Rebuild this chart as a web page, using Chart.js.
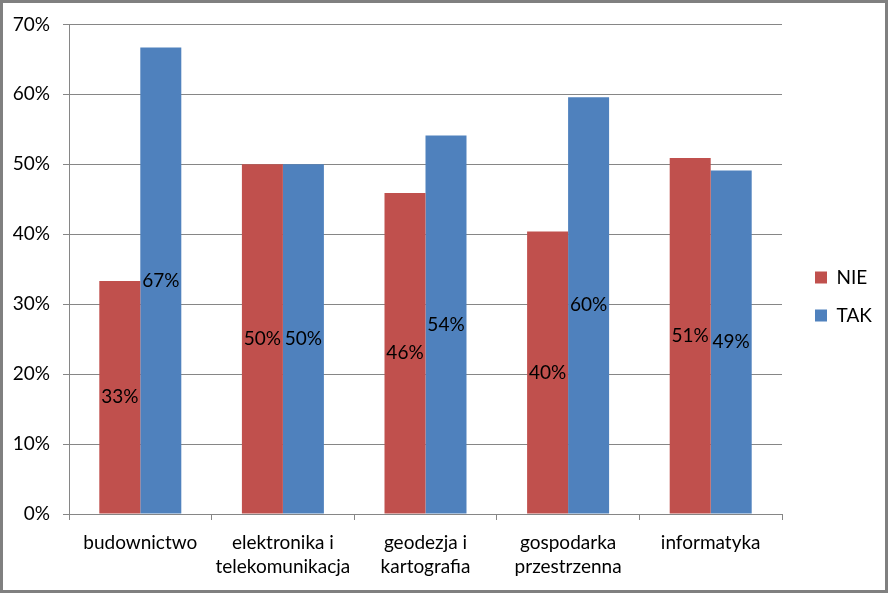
<!DOCTYPE html>
<html>
<head>
<meta charset="utf-8">
<script src="https://cdn.jsdelivr.net/npm/chart.js@4/dist/chart.umd.min.js"></script>
<style>
html,body{margin:0;padding:0;background:#fff;}
#wrap{width:888px;height:593px;position:relative;}
</style>
</head>
<body>
<div id="wrap"><canvas id="c" width="888" height="593"></canvas></div>
<script>
const categories = [["budownictwo"], ["elektronika i", "telekomunikacja"], ["geodezja i", "kartografia"], ["gospodarka", "przestrzenna"], ["informatyka"]];
const nieValues = [33.3, 50.0, 45.9, 40.4, 50.9];
const takValues = [66.7, 50.0, 54.1, 59.6, 49.1];
const yTicks = [0, 10, 20, 30, 40, 50, 60, 70];

const FONT = "Lato, 'Open Sans', sans-serif";
const FS = 19;

const framePlugin = {
  id: 'frame',
  afterInit(chart) {
    const lg = chart.legend;
    if (lg) {
      const origFit = lg.fit.bind(lg);
      lg.fit = function () { origFit(); this.width = 106; };
      const origDraw = lg.draw.bind(lg);
      lg.draw = function () { const c = this.ctx; c.save(); c.translate(14, -12); origDraw(); c.restore(); };
    }
  },
  beforeDraw(chart) {
    const ctx = chart.ctx;
    ctx.save();
    ctx.fillStyle = '#fff';
    ctx.fillRect(0, 0, chart.width, chart.height);
    ctx.restore();
  },
  afterDraw(chart) {
    const ctx = chart.ctx;
    ctx.save();
    ctx.strokeStyle = '#808080';
    ctx.lineWidth = 3;
    ctx.strokeRect(1.5, 1.5, chart.width - 3, chart.height - 3);
    ctx.restore();
  }
};

const labelPlugin = {
  id: 'barLabels',
  afterDatasetsDraw(chart) {
    const ctx = chart.ctx;
    ctx.save();
    ctx.font = FS + "px " + FONT;
    ctx.fillStyle = '#000';
    ctx.textAlign = 'center';
    ctx.textBaseline = 'middle';
    chart.data.datasets.forEach((ds, i) => {
      const meta = chart.getDatasetMeta(i);
      meta.data.forEach((bar, j) => {
        const v = ds.data[j];
        const yMid = (bar.y + bar.base) / 2;
        ctx.fillText(Math.round(v) + '%', bar.x, yMid);
      });
    });
    ctx.restore();
  }
};

new Chart(document.getElementById('c'), {
  type: 'bar',
  data: {
    labels: categories,
    datasets: [
      { label: 'NIE', data: nieValues, backgroundColor: '#C0504D', borderWidth: 0, categoryPercentage: 0.575, barPercentage: 1.0 },
      { label: 'TAK', data: takValues, backgroundColor: '#4F81BD', borderWidth: 0, categoryPercentage: 0.575, barPercentage: 1.0 }
    ]
  },
  options: {
    responsive: false,
    animation: false,
    devicePixelRatio: 1,
    layout: { padding: { left: 0, top: 24, right: 0, bottom: 0 } },
    plugins: {
      tooltip: { enabled: false },
      legend: {
        position: 'right',
        labels: {
          font: { family: FONT, size: FS },
          color: '#000',
          boxWidth: 12,
          boxHeight: 12,
          padding: 19
        }
      }
    },
    scales: {
      x: {
        afterFit(axis) { axis.height = 79; },
        grid: { offset: true, drawOnChartArea: false, drawTicks: true, tickLength: 6, color: '#868686' },
        border: { color: '#868686', width: 1 },
        ticks: { font: { family: FONT, size: FS, lineHeight: 24 / 19 }, color: '#000', padding: 11, maxRotation: 0, autoSkip: false }
      },
      y: {
        min: 0, max: 70,
        afterFit(axis) { axis.width = 69; },
        afterBuildTicks(axis) { axis.ticks = yTicks.map(v => ({ value: v })); },
        grid: { color: '#868686', tickLength: 6 },
        border: { color: '#868686', width: 1 },
        ticks: { font: { family: FONT, size: FS }, color: '#000', padding: 13, callback: v => v + '%' }
      }
    }
  },
  plugins: [framePlugin, labelPlugin]
});
</script>
</body>
</html>
